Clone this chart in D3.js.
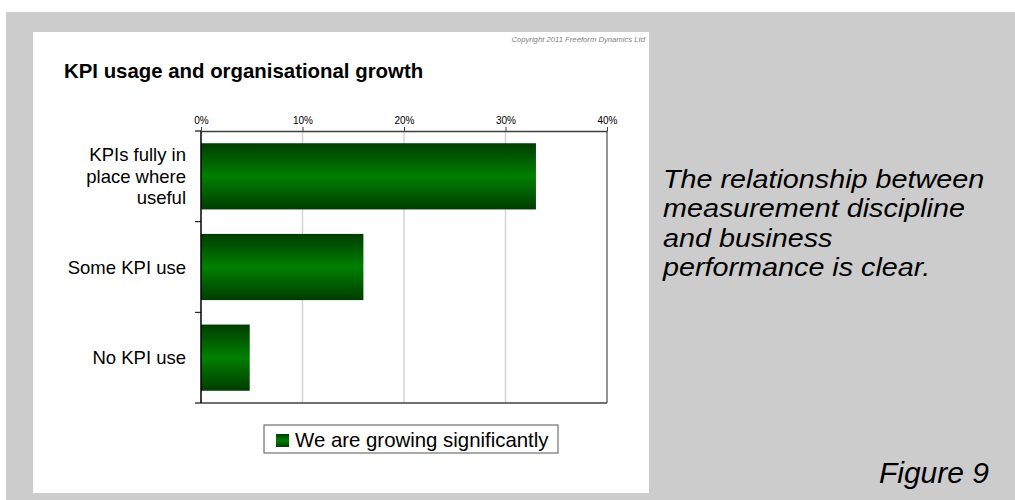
<!DOCTYPE html>
<html>
<head>
<meta charset="utf-8">
<script src="https://cdn.jsdelivr.net/npm/d3@7"></script>
<style>
  body { margin: 0; background: #fff; }
  svg { display: block; font-family: Arial, "Liberation Sans", sans-serif; }
</style>
</head>
<body>
<svg id="chart" width="1015" height="500"></svg>
<script>
const categories = ["KPIs fully in place where useful", "Some KPI use", "No KPI use"];
const categoryLines = [["KPIs fully in", "place where", "useful"], ["Some KPI use"], ["No KPI use"]];
const growingValues = [33, 16, 4.8];
const tickValues = [0, 10, 20, 30, 40];
const seriesName = "We are growing significantly";
const noteLines = ["The relationship between", "measurement discipline", "and business", "performance is clear."];

const svg = d3.select("#chart");

// slide backdrop
svg.append("rect").attr("x", 6).attr("y", 12).attr("width", 1009).attr("height", 488).attr("fill", "#cccccc");
svg.append("rect").attr("x", 33).attr("y", 32).attr("width", 616).attr("height", 461).attr("fill", "#ffffff");

svg.append("text")
  .attr("x", 645).attr("y", 42)
  .attr("text-anchor", "end")
  .attr("font-size", 7.7).attr("font-style", "italic").attr("fill", "#808080")
  .text("Copyright 2011 Freeform Dynamics Ltd");

svg.append("text")
  .attr("x", 64).attr("y", 78)
  .attr("font-size", 20.4).attr("font-weight", "bold").attr("fill", "#000")
  .text("KPI usage and organisational growth");

const plotL = 201, plotR = 607, plotT = 131, plotB = 403;

const x = d3.scaleLinear().domain([0, 40]).range([plotL, plotR]);
const y = d3.scaleBand().domain(categories).range([plotT, plotB]).paddingInner(0.27).paddingOuter(0.135);

const defs = svg.append("defs");
const grad = defs.append("linearGradient").attr("id", "barGrad")
  .attr("x1", "0%").attr("y1", "0%").attr("x2", "0%").attr("y2", "100%");
grad.append("stop").attr("offset", "0%").attr("stop-color", "#003c00");
grad.append("stop").attr("offset", "50%").attr("stop-color", "#008000");
grad.append("stop").attr("offset", "100%").attr("stop-color", "#003c00");

// gridlines
svg.append("g").selectAll("line")
  .data(tickValues.slice(1, -1))
  .enter().append("line")
  .attr("x1", d => x(d)).attr("x2", d => x(d))
  .attr("y1", plotT).attr("y2", plotB)
  .attr("stroke", "#d4d4d4").attr("stroke-width", 1.5);

// right border
svg.append("line").attr("x1", plotR).attr("x2", plotR).attr("y1", plotT).attr("y2", plotB)
  .attr("stroke", "#707070").attr("stroke-width", 1.5);

// top axis
const xAxis = d3.axisTop(x).tickValues(tickValues).tickFormat(d => d + "%").tickSize(4).tickSizeOuter(0);
const gx = svg.append("g").attr("transform", `translate(0,${plotT})`).call(xAxis);
gx.select(".domain").attr("stroke", "#404040").attr("stroke-width", 1.5);
gx.selectAll(".tick line").attr("stroke", "#404040");
gx.selectAll(".tick text").attr("font-size", 10).attr("fill", "#000").attr("font-family", "Arial, 'Liberation Sans', sans-serif");
svg.append("line").attr("x1", plotL - 6).attr("x2", plotL).attr("y1", plotT).attr("y2", plotT).attr("stroke", "#404040").attr("stroke-width", 1.5);

// bottom line
svg.append("line").attr("x1", plotL - 6).attr("x2", plotR).attr("y1", plotB).attr("y2", plotB)
  .attr("stroke", "#404040").attr("stroke-width", 1.5);

// bars
svg.append("g").selectAll("rect")
  .data(growingValues)
  .enter().append("rect")
  .attr("x", x(0))
  .attr("y", (d, i) => y(categories[i]))
  .attr("width", d => x(d) - x(0))
  .attr("height", y.bandwidth())
  .attr("fill", "url(#barGrad)");

// left axis line and category separators
svg.append("line").attr("x1", plotL).attr("x2", plotL).attr("y1", plotT).attr("y2", plotB)
  .attr("stroke", "#000").attr("stroke-width", 1.5);
const step = y.step();
svg.append("g").selectAll("line")
  .data(categories.slice(1))
  .enter().append("line")
  .attr("x1", plotL - 6).attr("x2", plotL)
  .attr("y1", d => y(d) - step * y.paddingInner() / 2)
  .attr("y2", d => y(d) - step * y.paddingInner() / 2)
  .attr("stroke", "#000").attr("stroke-width", 1);

// category labels
categories.forEach((c, i) => {
  const lines = categoryLines[i];
  const cy = y(c) + y.bandwidth() / 2;
  const t = svg.append("text")
    .attr("text-anchor", "end").attr("font-size", 18.5).attr("fill", "#000");
  lines.forEach((ln, j) => {
    t.append("tspan").attr("x", 186)
      .attr("y", cy + (j - (lines.length - 1) / 2) * 21.5 + 6.5)
      .text(ln);
  });
});

// legend
const lg = svg.append("g").attr("transform", "translate(264,425)");
lg.append("rect").attr("width", 294).attr("height", 28).attr("fill", "#fff").attr("stroke", "#555").attr("stroke-width", 1);
lg.append("rect").attr("x", 12).attr("y", 9).attr("width", 13).attr("height", 13).attr("fill", "url(#barGrad)");
lg.append("text").attr("x", 31).attr("y", 21.5).attr("font-size", 20.4).attr("fill", "#000").text(seriesName);

// side note (slightly wide lettering in the slide)
const note = svg.append("text")
  .attr("transform", "translate(663,0) scale(1.15,1)")
  .attr("font-size", 25).attr("font-style", "italic").attr("fill", "#000");
noteLines.forEach((ln, j) => {
  note.append("tspan").attr("x", 0).attr("y", 188 + j * 29.5).text(ln);
});

svg.append("text").attr("x", 989).attr("y", 483).attr("text-anchor", "end")
  .attr("font-size", 30).attr("font-style", "italic").attr("fill", "#000").text("Figure 9");
</script>
</body>
</html>
